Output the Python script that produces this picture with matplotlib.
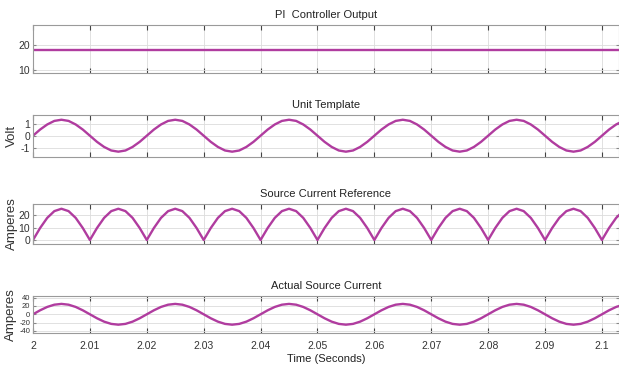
import numpy as np
import matplotlib
matplotlib.use("Agg")
import matplotlib.pyplot as plt
from matplotlib import font_manager

names = {f.name for f in font_manager.fontManager.ttflist}
fam = ['Liberation Sans Narrow'] if 'Liberation Sans Narrow' in names else ['Liberation Sans']
plt.rcParams['font.family'] = fam + ['DejaVu Sans']
plt.rcParams['axes.unicode_minus'] = False

# ---------------- data ----------------
t_start = 2.0
t_step = 0.00125
time = t_start + t_step * np.arange(84)

pi_time = [2.0, 2.104]
pi_output = [18.0, 18.0]

unit_template = [
    0, 0.52, 0.95, 1.25, 1.35, 1.25, 0.95, 0.52, 0, -0.52, -0.95, -1.25, -1.35, -1.25, -0.95, -0.52,
    0, 0.52, 0.95, 1.25, 1.35, 1.25, 0.95, 0.52, 0, -0.52, -0.95, -1.25, -1.35, -1.25, -0.95, -0.52,
    0, 0.52, 0.95, 1.25, 1.35, 1.25, 0.95, 0.52, 0, -0.52, -0.95, -1.25, -1.35, -1.25, -0.95, -0.52,
    0, 0.52, 0.95, 1.25, 1.35, 1.25, 0.95, 0.52, 0, -0.52, -0.95, -1.25, -1.35, -1.25, -0.95, -0.52,
    0, 0.52, 0.95, 1.25, 1.35, 1.25, 0.95, 0.52, 0, -0.52, -0.95, -1.25, -1.35, -1.25, -0.95, -0.52,
    0, 0.52, 0.95, 1.25,
]

source_ref = [
    0, 9.6, 17.7, 23.1, 25, 23.1, 17.7, 9.6, 0, 9.6, 17.7, 23.1, 25, 23.1, 17.7, 9.6,
    0, 9.6, 17.7, 23.1, 25, 23.1, 17.7, 9.6, 0, 9.6, 17.7, 23.1, 25, 23.1, 17.7, 9.6,
    0, 9.6, 17.7, 23.1, 25, 23.1, 17.7, 9.6, 0, 9.6, 17.7, 23.1, 25, 23.1, 17.7, 9.6,
    0, 9.6, 17.7, 23.1, 25, 23.1, 17.7, 9.6, 0, 9.6, 17.7, 23.1, 25, 23.1, 17.7, 9.6,
    0, 9.6, 17.7, 23.1, 25, 23.1, 17.7, 9.6, 0, 9.6, 17.7, 23.1, 25, 23.1, 17.7, 9.6,
    0, 9.6, 17.7, 23.1,
]

actual_current = [
    0, 9.6, 17.7, 23.1, 25, 23.1, 17.7, 9.6, 0, -9.6, -17.7, -23.1, -25, -23.1, -17.7, -9.6,
    0, 9.6, 17.7, 23.1, 25, 23.1, 17.7, 9.6, 0, -9.6, -17.7, -23.1, -25, -23.1, -17.7, -9.6,
    0, 9.6, 17.7, 23.1, 25, 23.1, 17.7, 9.6, 0, -9.6, -17.7, -23.1, -25, -23.1, -17.7, -9.6,
    0, 9.6, 17.7, 23.1, 25, 23.1, 17.7, 9.6, 0, -9.6, -17.7, -23.1, -25, -23.1, -17.7, -9.6,
    0, 9.6, 17.7, 23.1, 25, 23.1, 17.7, 9.6, 0, -9.6, -17.7, -23.1, -25, -23.1, -17.7, -9.6,
    0, 9.6, 17.7, 23.1,
]

titles = ["PI  Controller Output", "Unit Template", "Source Current Reference", "Actual Source Current"]
ylabels = ["", "Volt", "Amperes", "Amperes"]
yticks = [[10, 20], [-1, 0, 1], [0, 10, 20], [-40, -20, 0, 20, 40]]
ylims = [(8.8, 28), (-1.8, 1.75), (-3.2, 28.8), (-45, 44)]
ytick_size = [7.5, 7.5, 7.5, 5.5]
xticks = [2, 2.01, 2.02, 2.03, 2.04, 2.05, 2.06, 2.07, 2.08, 2.09, 2.1]
xticklabels = ["2", "2.01", "2.02", "2.03", "2.04", "2.05", "2.06", "2.07", "2.08", "2.09", "2.1"]

# ---------------- figure ----------------
W, H = 619, 370
fig = plt.figure(figsize=(W / 100, H / 100), dpi=100)
fig.patch.set_facecolor('white')

boxes = [(25, 73), (115, 157), (204, 244), (296, 333)]
left_px = 33
line_color = '#b03c9f'

series = [(pi_time, pi_output), (time, unit_template), (time, source_ref), (time, actual_current)]

for i, ((top, bot), (xs, ys)) in enumerate(zip(boxes, series)):
    ax = fig.add_axes([left_px / W, 1 - bot / H, 1 - left_px / W, (bot - top) / H])
    ax.plot(xs, ys, color=line_color, lw=1.7, solid_joinstyle='round')
    ax.set_xlim(2.0, 2.103)
    ax.set_ylim(*ylims[i])
    ax.set_xticks(xticks)
    ax.set_yticks(yticks[i])
    ax.grid(True, color='#dcdcdc', lw=0.6)
    for s in ax.spines.values():
        s.set_color('#9a9a9a')
        s.set_linewidth(0.8)
    ax.tick_params(axis='both', direction='in', top=True, right=True,
                   length=3.5, width=0.8, color='#444444',
                   labelsize=7.5, labelcolor='#333333', pad=3)
    ax.tick_params(axis='y', length=2.5, color='#888888', pad=2, labelsize=ytick_size[i])
    if i == 3:
        ax.set_xticklabels(xticklabels)
        ax.tick_params(axis='x', pad=6)
        ax.set_xlabel("Time (Seconds)", fontsize=8, color='#222222', labelpad=2)
    else:
        ax.set_xticklabels([])
    ax.set_title(titles[i], fontsize=8, color='#222222', pad=5)
    if ylabels[i]:
        ax.set_ylabel(ylabels[i], fontsize=9.5, color='#333333')
        ax.yaxis.set_label_coords(-0.025 if i < 3 else -0.027, 0.5)

fig.savefig('out.png', dpi=100, facecolor='white')
